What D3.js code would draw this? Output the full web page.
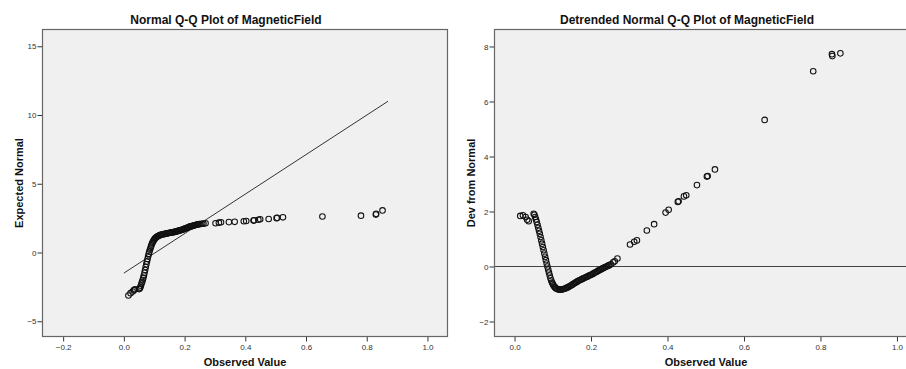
<!DOCTYPE html>
<html>
<head>
<meta charset="utf-8">
<script src="https://cdn.jsdelivr.net/npm/d3@7"></script>
<style>
    body { margin: 0; background: #fff; }
    svg { display: block; font-family: Arial, "Liberation Sans", sans-serif; }
    .tick text { font-size: 8px; fill: #333; }
    .tick line { stroke: #333; }
</style>
</head>
<body>
<div id="charts"></div>
<script>
const qqTitle = "Normal Q-Q Plot of MagneticField";
const devTitle = "Detrended Normal Q-Q Plot of MagneticField";
const xTitle = "Observed Value";
const qqYTitle = "Expected Normal";
const devYTitle = "Dev from Normal";

const qqXTicks = [-0.2, 0.0, 0.2, 0.4, 0.6, 0.8, 1.0];
const devXTicks = [0.0, 0.2, 0.4, 0.6, 0.8, 1.0];
const qqYTicks = [-5, 0, 5, 10, 15];
const devYTicks = [-2, 0, 2, 4, 6, 8];

// one entry per case, sorted by observed value
const observed = [
    0.015, 0.022, 0.029, 0.033, 0.037,
    0.050, 0.052, 0.054, 0.056, 0.058, 0.060, 0.062, 0.064, 0.066, 0.068, 0.070, 0.072, 0.074, 0.076, 0.078,
    0.080, 0.082, 0.084, 0.086, 0.088, 0.090, 0.092, 0.094, 0.096, 0.098, 0.100, 0.102, 0.104, 0.106, 0.108, 0.110,
    0.113, 0.116, 0.119, 0.122, 0.125, 0.128, 0.131, 0.134, 0.137, 0.140, 0.143, 0.146, 0.149, 0.152, 0.155, 0.158,
    0.161, 0.164, 0.167, 0.170, 0.173, 0.176, 0.179, 0.182, 0.185, 0.188, 0.191, 0.194, 0.197, 0.200, 0.203, 0.206,
    0.209, 0.212, 0.215, 0.218, 0.221, 0.224, 0.227, 0.230, 0.233, 0.236, 0.239, 0.242, 0.245, 0.248,
    0.252, 0.258, 0.262, 0.269,
    0.302, 0.313, 0.320, 0.346, 0.365, 0.395, 0.403, 0.427, 0.429, 0.443, 0.449, 0.477, 0.503, 0.505, 0.524,
    0.654, 0.781, 0.830, 0.831, 0.852
];
const expectedNormal = [
    -3.13, -2.96, -2.84, -2.74, -2.68,
    -2.66, -2.62, -2.55, -2.42, -2.28, -2.14, -2.00, -1.85, -1.68, -1.48, -1.27, -1.06, -0.86, -0.66, -0.47,
    -0.28, -0.10, 0.06, 0.20, 0.34, 0.48, 0.60, 0.70, 0.79, 0.87, 0.94, 1.00, 1.05, 1.09, 1.13, 1.16,
    1.20, 1.23, 1.26, 1.28, 1.30, 1.32, 1.33, 1.35, 1.36, 1.38, 1.39, 1.41, 1.42, 1.44, 1.45, 1.46,
    1.47, 1.48, 1.50, 1.52, 1.53, 1.55, 1.57, 1.59, 1.61, 1.63, 1.65, 1.67, 1.70, 1.72, 1.75, 1.78,
    1.80, 1.83, 1.86, 1.88, 1.90, 1.92, 1.94, 1.96, 1.98, 2.00, 2.02, 2.04, 2.05, 2.06,
    2.07, 2.09, 2.10, 2.13,
    2.13, 2.17, 2.20, 2.21, 2.23, 2.27, 2.29, 2.32, 2.34, 2.38, 2.42, 2.44, 2.50, 2.52, 2.56,
    2.62, 2.68, 2.76, 2.81, 3.06
];
const devFromNormal = [
    1.84, 1.86, 1.80, 1.70, 1.65,
    1.92, 1.88, 1.80, 1.71, 1.62, 1.52, 1.41, 1.30, 1.19, 1.07, 0.95, 0.83, 0.71, 0.59, 0.47,
    0.35, 0.23, 0.11, 0.00, -0.11, -0.22, -0.33, -0.43, -0.51, -0.58, -0.64, -0.69, -0.73, -0.76, -0.79, -0.81,
    -0.83, -0.84, -0.84, -0.84, -0.83, -0.82, -0.81, -0.79, -0.77, -0.75, -0.73, -0.70, -0.68, -0.65, -0.62, -0.60,
    -0.57, -0.55, -0.52, -0.50, -0.48, -0.46, -0.44, -0.42, -0.40, -0.38, -0.36, -0.34, -0.32, -0.30, -0.28, -0.26,
    -0.23, -0.21, -0.19, -0.16, -0.14, -0.12, -0.10, -0.07, -0.05, -0.03, -0.01, 0.01, 0.03, 0.05,
    0.08, 0.15, 0.19, 0.29,
    0.80, 0.90, 0.95, 1.31, 1.54, 1.96, 2.06, 2.35, 2.37, 2.55, 2.59, 2.96, 3.27, 3.29, 3.53,
    5.33, 7.10, 7.72, 7.65, 7.75
];

// reference lines
const qqLineObserved = [0.0, 0.87];
const qqLineExpected = [-1.5, 11.0];
const devLineValue = [0];

const svgWidth = 906;
const svgHeight = 369;

let svg = d3.select("#charts")
    .append("svg")
    .attr("width", svgWidth)
    .attr("height", svgHeight);

/**
 * draws one SPSS style panel
 * @param params
 */
function createChart(params) {
    let box = params.box;

    let x = d3.scaleLinear()
        .domain(params.xDomain)
        .range([box.left, box.right]);

    let y = d3.scaleLinear()
        .domain(params.yDomain)
        .range([box.bottom, box.top]);

    let g = svg.append("g");

    g.append("rect")
        .attr("x", box.left)
        .attr("y", box.top)
        .attr("width", box.right - box.left)
        .attr("height", box.bottom - box.top)
        .style("fill", "#f0f0f0");

    g.append("g")
        .attr("transform", `translate(0,${box.bottom})`)
        .call(d3.axisBottom(x).tickValues(params.xTicks).tickSize(5).tickSizeOuter(0).tickPadding(3)
            .tickFormat(d3.format(".1f")))
        .call(a => a.select(".domain").remove());

    g.append("g")
        .attr("transform", `translate(${box.left},0)`)
        .call(d3.axisLeft(y).tickValues(params.yTicks).tickSize(5).tickSizeOuter(0).tickPadding(1)
            .tickFormat(d3.format("d")))
        .call(a => a.select(".domain").remove());

    // reference line
    if (params.lineX) {
        g.append("line")
            .attr("x1", x(params.lineX[0]))
            .attr("y1", y(params.lineY[0]))
            .attr("x2", x(params.lineX[1]))
            .attr("y2", y(params.lineY[1]))
            .attr("stroke", "#333")
            .attr("stroke-width", 1);
    } else {
        g.selectAll(".zero")
            .data(params.lineY)
            .enter().append("line")
            .attr("x1", box.left)
            .attr("x2", box.right)
            .attr("y1", d => y(d))
            .attr("y2", d => y(d))
            .attr("stroke", "#444")
            .attr("stroke-width", 1);
    }

    g.append("g")
        .selectAll("circle")
        .data(params.xs)
        .enter().append("circle")
        .attr("cx", d => x(d))
        .attr("cy", (d, i) => y(params.ys[i]))
        .attr("r", 2.8)
        .style("fill", "none")
        .style("stroke", "#111")
        .style("stroke-width", 1.05);

    // frame
    g.append("rect")
        .attr("x", box.left)
        .attr("y", box.top)
        .attr("width", box.right - box.left)
        .attr("height", box.bottom - box.top)
        .style("fill", "none")
        .style("stroke", "#666")
        .style("stroke-width", 1.2);

    g.append("text")
        .attr("x", params.titleX)
        .attr("y", 24)
        .attr("text-anchor", "middle")
        .style("font-size", "12px")
        .style("font-weight", "bold")
        .style("fill", "#111")
        .text(params.title);

    g.append("text")
        .attr("x", params.xTitleX)
        .attr("y", 366)
        .attr("text-anchor", "middle")
        .style("font-size", "11px")
        .style("font-weight", "bold")
        .style("fill", "#111")
        .text(xTitle);

    g.append("text")
        .attr("transform", `translate(${box.left - 20},${(box.top + box.bottom) / 2}) rotate(-90)`)
        .attr("text-anchor", "middle")
        .style("font-size", "11px")
        .style("font-weight", "bold")
        .style("fill", "#111")
        .text(params.yTitle);
}

createChart({
    box: {left: 42.5, right: 447.5, top: 29.5, bottom: 336.5},
    xDomain: [-0.268, 1.066],
    yDomain: [-6.11, 16.22],
    xTicks: qqXTicks,
    yTicks: qqYTicks,
    xs: observed,
    ys: expectedNormal,
    lineX: qqLineObserved,
    lineY: qqLineExpected,
    title: qqTitle,
    titleX: 226,
    xTitleX: 245,
    yTitle: qqYTitle
});

// right panel runs past the window edge, as in the source image
createChart({
    box: {left: 494.5, right: 917.5, top: 29.5, bottom: 336.5},
    xDomain: [-0.0524, 1.0537],
    yDomain: [-2.545, 8.618],
    xTicks: devXTicks,
    yTicks: devYTicks,
    xs: observed,
    ys: devFromNormal,
    lineY: devLineValue,
    title: devTitle,
    titleX: 687,
    xTitleX: 706,
    yTitle: devYTitle
});
</script>
</body>
</html>
